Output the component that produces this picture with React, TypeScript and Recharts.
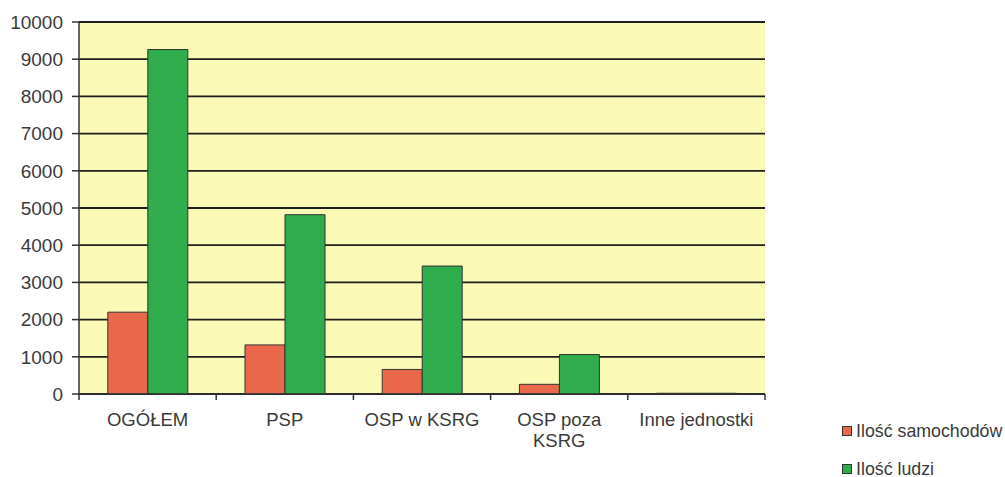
import React from "react";
import { BarChart, Bar, XAxis, YAxis, CartesianGrid } from "recharts";

const categories = ["OGÓŁEM", "PSP", "OSP w KSRG", "OSP poza KSRG", "Inne jednostki"];
const tickLines: string[][] = [["OGÓŁEM"], ["PSP"], ["OSP w KSRG"], ["OSP poza", "KSRG"], ["Inne jednostki"]];
const samochody = [2200, 1320, 660, 260, 20];
const ludzie = [9260, 4820, 3440, 1060, 20];
const yTicks = [0, 1000, 2000, 3000, 4000, 5000, 6000, 7000, 8000, 9000, 10000];
const seriesNames = ["Ilość samochodów", "Ilość ludzi"];
const colors = ["#e9684c", "#2fac4c"];

const data = categories.map((c, i) => ({ name: c, samochody: samochody[i], ludzie: ludzie[i] }));

const FONT = "'Liberation Sans', Arial, sans-serif";

const XTick = (props: any) => {
  const { x, y, payload, index } = props;
  const half = payload?.offset ?? 68.6;
  const idx = payload?.index ?? index;
  const lines = tickLines[idx] || [String(payload.value)];
  return (
    <g>
      <line x1={x - half} y1={y - 8} x2={x - half} y2={y - 2} stroke="#333" strokeWidth={1.5} />
      {idx === categories.length - 1 && (
        <line x1={x + half} y1={y - 8} x2={x + half} y2={y - 2} stroke="#333" strokeWidth={1.5} />
      )}
      <text x={x} y={y + 24} textAnchor="middle" fill="#3a3a3a" fontSize={18.5} fontFamily={FONT}>
        {lines.map((l, i) => (
          <tspan key={i} x={x} dy={i === 0 ? 0 : 21}>
            {l}
          </tspan>
        ))}
      </text>
    </g>
  );
};

const LegendBox = () => (
  <div style={{ position: "absolute", left: 842, top: 421, fontFamily: FONT, fontSize: 17.8, color: "#3a3a3a" }}>
    {seriesNames.map((n, i) => (
      <div key={n} style={{ display: "flex", alignItems: "center", height: 20, marginBottom: i === 0 ? 18 : 0, whiteSpace: "nowrap" }}>
        <span
          style={{
            display: "inline-block",
            width: 8,
            height: 8,
            background: colors[i],
            border: "1px solid #333",
            marginRight: 4,
          }}
        />
        <span>{n}</span>
      </div>
    ))}
  </div>
);

export default function App() {
  return (
    <div style={{ position: "absolute", left: 0, top: 0, width: 1005, height: 477, background: "#fff" }}>
      <BarChart
        width={1005}
        height={477}
        data={data}
        margin={{ top: 22, right: 240, bottom: 53, left: 9 }}
        barCategoryGap="21%"
        barGap={0}
      >
        <CartesianGrid vertical={false} stroke="#1e1e1e" strokeWidth={1.8} fill="#fbf9b6" fillOpacity={1} />
        <XAxis
          dataKey="name"
          height={30}
          axisLine={{ stroke: "#333", strokeWidth: 1.5 }}
          tickLine={false}
          tick={<XTick />}
          interval={0}
        />
        <YAxis
          width={70}
          domain={[0, 10000]}
          ticks={yTicks}
          interval={0}
          axisLine={{ stroke: "#333", strokeWidth: 1.5 }}
          tickLine={{ stroke: "#333", strokeWidth: 1.5 }}
          tickSize={7}
          tick={{ fill: "#3a3a3a", fontSize: 19, fontFamily: FONT, dx: -7 }}
        />
        <Bar dataKey="samochody" name={seriesNames[0]} fill={colors[0]} stroke="#333" strokeWidth={1} isAnimationActive={false} />
        <Bar dataKey="ludzie" name={seriesNames[1]} fill={colors[1]} stroke="#333" strokeWidth={1} isAnimationActive={false} />
      </BarChart>
      <LegendBox />
    </div>
  );
}
